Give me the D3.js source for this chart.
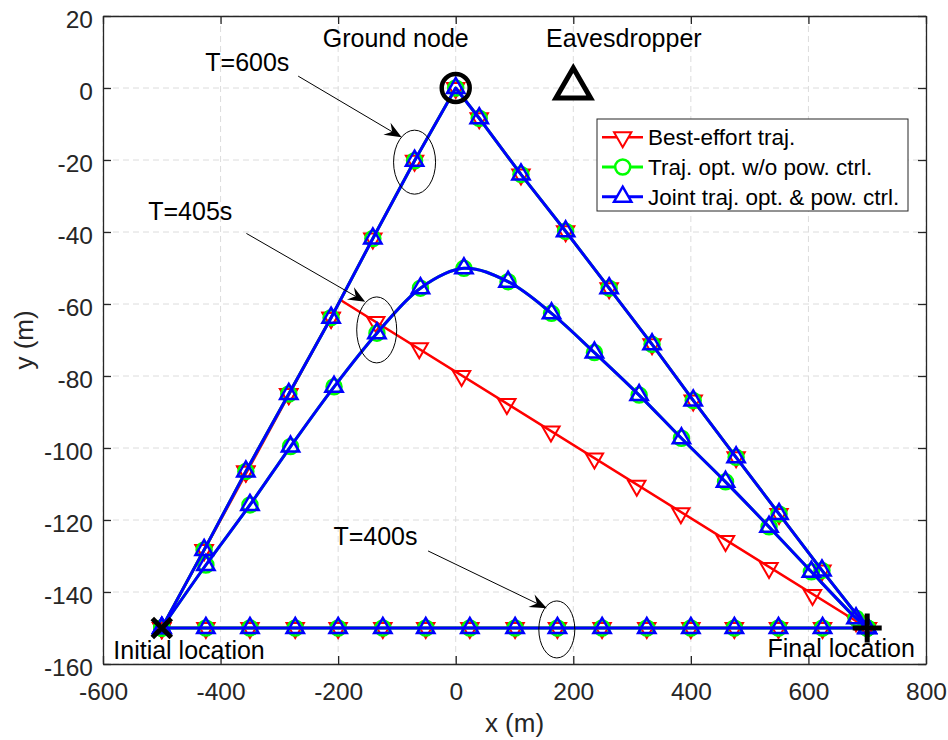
<!DOCTYPE html>
<html>
<head>
<meta charset="utf-8">
<script src="https://cdn.jsdelivr.net/npm/d3@7"></script>
<style>
  body { margin: 0; background: #fff; }
  svg { display: block; font-family: "Liberation Sans", Arial, Helvetica, sans-serif; }
</style>
</head>
<body>
<div class="canvas"></div>
<script>
// Axis ticks
const xTicks = [-600, -400, -200, 0, 200, 400, 600, 800];
const yTicks = [20, 0, -20, -40, -60, -80, -100, -120, -140, -160];

// T = 600 s : all three schemes fly the same path (via the ground node)
const t600X = [-500, -428, -357, -284, -212, -141, -70, 0, 40, 111, 187, 261, 334, 404, 477, 550, 623, 700];
const t600Y = [-150, -128.3, -106.5, -85, -63.8, -41.8, -20.2, 0, -8.4, -24, -39.8, -55.6, -71.2, -86.8, -102.6, -118.3, -134, -150];

// T = 400 s : straight line, all schemes coincide
const t400X = [-500, -425, -350, -273, -200, -124, -51, 24, 101, 173, 249, 325, 400, 474, 549, 624, 700];
const t400Y = [-150, -150, -150, -150, -150, -150, -150, -150, -150, -150, -150, -150, -150, -150, -150, -150, -150];

// T = 405 s : optimized trajectories (w/o power control and joint)
const t405X = [-500, -425, -350, -281, -207, -134, -60, 14, 89, 163, 236, 312, 384, 459, 533, 605, 681, 700];
const t405Y = [-150, -132.5, -115.8, -99.6, -83, -68.1, -55.6, -50.1, -53.8, -62.6, -73.5, -85.3, -97.3, -109.4, -121.9, -134.4, -147.3, -150];

// T = 405 s : best-effort trajectory (markers, and the corners of its path)
const beX = [-500, -428, -357, -284, -212, -136, -62, 10, 87, 162, 236, 308, 383, 459, 533, 607, 681, 700];
const beY = [-150, -128.3, -106.5, -85, -63.8, -65, -72.3, -80, -87.8, -95.4, -102.9, -110.5, -118.1, -125.8, -133.3, -140.8, -148.1, -150];
const bePathX = [-500, -196, 700];
const bePathY = [-150, -58.9, -150];

const seriesNames = ['Best-effort traj.', 'Traj. opt. w/o pow. ctrl.', 'Joint traj. opt. & pow. ctrl.'];
const seriesColors = ['#ff0000', '#00ff00', '#0000ff'];

const zip = (xs, ys) => xs.map((v, i) => [v, ys[i]]);

const width = 948, height = 740;
const plot = { left: 103, right: 926, top: 16, bottom: 664 };

const svg = d3.select('.canvas')
  .append('svg')
  .attr('width', width)
  .attr('height', height);

const x = d3.scaleLinear().domain([-600, 800]).range([plot.left, plot.right]);
const y = d3.scaleLinear().domain([-160, 20]).range([plot.bottom, plot.top]);

// grid
const grid = svg.append('g')
  .attr('stroke', '#dcdcdc')
  .attr('stroke-width', 1)
  .attr('stroke-dasharray', '6,4');

grid.selectAll('.gx').data(xTicks).enter().append('line')
  .attr('x1', d => x(d)).attr('x2', d => x(d))
  .attr('y1', plot.top).attr('y2', plot.bottom);

grid.selectAll('.gy').data(yTicks).enter().append('line')
  .attr('y1', d => y(d)).attr('y2', d => y(d))
  .attr('x1', plot.left).attr('x2', plot.right);

// axes (box with inward ticks)
const fmt = d => String(d);
const axes = [
  svg.append('g').attr('transform', `translate(0,${plot.bottom})`)
    .call(d3.axisBottom(x).tickValues(xTicks).tickSizeInner(-8).tickSizeOuter(0).tickPadding(19).tickFormat(fmt)),
  svg.append('g').attr('transform', `translate(${plot.left},0)`)
    .call(d3.axisLeft(y).tickValues(yTicks).tickSizeInner(-8).tickSizeOuter(0).tickPadding(10).tickFormat(fmt)),
  svg.append('g').attr('transform', `translate(0,${plot.top})`)
    .call(d3.axisTop(x).tickValues(xTicks).tickSizeInner(-8).tickSizeOuter(0).tickFormat('')),
  svg.append('g').attr('transform', `translate(${plot.right},0)`)
    .call(d3.axisRight(y).tickValues(yTicks).tickSizeInner(-8).tickSizeOuter(0).tickFormat(''))
];
axes.forEach(a => {
  a.attr('font-family', null).attr('font-size', null);
  a.select('.domain').attr('stroke', '#262626').attr('stroke-width', 1.3);
  a.selectAll('.tick line').attr('stroke', '#262626').attr('stroke-width', 1.3);
  a.selectAll('.tick text').attr('fill', '#262626').style('font-size', '24.5px');
});
axes[1].selectAll('.tick text').attr('dy', '0.45em');

// axis labels
svg.append('text')
  .attr('x', (plot.left + plot.right) / 2)
  .attr('y', 732)
  .attr('text-anchor', 'middle')
  .attr('fill', '#262626')
  .style('font-size', '26px')
  .text('x (m)');

svg.append('text')
  .attr('transform', `translate(33,${(plot.top + plot.bottom) / 2}) rotate(-90)`)
  .attr('text-anchor', 'middle')
  .attr('fill', '#262626')
  .style('font-size', '26px')
  .text('y (m)');

// line generators
const straight = d3.line().x(d => x(d[0])).y(d => y(d[1]));
const smooth = d3.line().curve(d3.curveCatmullRom.alpha(0.5)).x(d => x(d[0])).y(d => y(d[1]));

// marker shapes
const triUp = d3.symbol(d3.symbolTriangle, 130)();
const markerPath = [
  { path: triUp, rotate: 180 },
  { path: d3.symbol(d3.symbolCircle, Math.PI * 7.5 * 7.5)(), rotate: 0 },
  { path: triUp, rotate: 0 }
];
const markerStroke = [2, 2.5, 2.5];
const lineWidth = [2.5, 3, 3];

const drawMarkers = (g, pts, i) => {
  g.selectAll(null).data(pts).enter().append('path')
    .attr('d', markerPath[i].path)
    .attr('transform', d => `translate(${x(d[0])},${y(d[1])}) rotate(${markerPath[i].rotate})`)
    .attr('fill', 'none')
    .attr('stroke', seriesColors[i])
    .attr('stroke-width', markerStroke[i]);
};

const seriesData = [
  { lines: [[zip(t600X, t600Y), straight], [zip(t400X, t400Y), straight], [zip(bePathX, bePathY), straight]],
    markers: [zip(t600X, t600Y), zip(t400X, t400Y), zip(beX, beY)] },
  { lines: [[zip(t600X, t600Y), straight], [zip(t400X, t400Y), straight], [zip(t405X, t405Y), smooth]],
    markers: [zip(t600X, t600Y), zip(t400X, t400Y), zip(t405X, t405Y)] },
  { lines: [[zip(t600X, t600Y), straight], [zip(t400X, t400Y), straight], [zip(t405X, t405Y), smooth]],
    markers: [zip(t600X, t600Y), zip(t400X, t400Y), zip(t405X, t405Y)] }
];

seriesData.forEach((s, i) => {
  const g = svg.append('g');
  s.lines.forEach(([pts, gen]) => {
    g.append('path')
      .attr('d', gen(pts))
      .attr('fill', 'none')
      .attr('stroke', seriesColors[i])
      .attr('stroke-width', lineWidth[i])
      .attr('stroke-linejoin', 'round');
  });
  s.markers.forEach(pts => drawMarkers(g, pts, i));
});

// annotations: ellipses + arrows + text
const notes = [
  { text: 'T=600s', tx: -426, ty: 4.7, from: [-268, 3.3], to: [-92, -13.7], ell: [-70, -20.6], rx: 21, ry: 32 },
  { text: 'T=405s', tx: -523, ty: -36.7, from: [-356, -40.4], to: [-154, -59.4], ell: [-134.4, -67.2], rx: 20, ry: 33 },
  { text: 'T=400s', tx: -208, ty: -127, from: [-47, -128.6], to: [155, -144.5], ell: [172, -150.4], rx: 18, ry: 28.5 }
];

const ann = svg.append('g');
notes.forEach(n => {
  ann.append('ellipse')
    .attr('cx', x(n.ell[0])).attr('cy', y(n.ell[1]))
    .attr('rx', n.rx).attr('ry', n.ry)
    .attr('fill', 'none').attr('stroke', '#000').attr('stroke-width', 1);

  const x0 = x(n.from[0]), y0 = y(n.from[1]);
  const x1 = x(n.to[0]), y1 = y(n.to[1]);
  const ang = Math.atan2(y1 - y0, x1 - x0);
  const len = 17, half = 7, notch = 11;
  const ux = Math.cos(ang), uy = Math.sin(ang);
  const px = -uy, py = ux;
  const bx = x1 - ux * len, by = y1 - uy * len;
  const nx = x1 - ux * notch, ny = y1 - uy * notch;

  ann.append('line')
    .attr('x1', x0).attr('y1', y0).attr('x2', nx).attr('y2', ny)
    .attr('stroke', '#000').attr('stroke-width', 1);

  ann.append('path')
    .attr('d', `M${x1},${y1}L${bx + px * half},${by + py * half}L${nx},${ny}L${bx - px * half},${by - py * half}Z`)
    .attr('fill', '#000');

  ann.append('text')
    .attr('x', x(n.tx)).attr('y', y(n.ty))
    .style('font-size', '25px')
    .text(n.text);
});

// special locations
const special = svg.append('g').attr('stroke', '#000').attr('fill', 'none');

special.append('circle')
  .attr('cx', x(0)).attr('cy', y(0)).attr('r', 14)
  .attr('stroke-width', 4.5);

special.append('path')
  .attr('d', d3.symbol(d3.symbolTriangle, 520)())
  .attr('transform', `translate(${x(200)},${y(0)})`)
  .attr('stroke-width', 5)
  .attr('stroke-linejoin', 'miter');

const sx = x(-500), sy = y(-150), a = 9.5;
special.append('path')
  .attr('d', `M${sx - a},${sy - a}L${sx + a},${sy + a}M${sx - a},${sy + a}L${sx + a},${sy - a}`)
  .attr('stroke-width', 5);

const fx = x(700), fy = y(-150), b = 14.5;
special.append('path')
  .attr('d', `M${fx - b},${fy}L${fx + b},${fy}M${fx},${fy - b}L${fx},${fy + b}`)
  .attr('stroke-width', 5);

const labels = [
  { text: 'Ground node', px: -102, py: 11.5, anchor: 'middle' },
  { text: 'Eavesdropper', px: 286, py: 11.3, anchor: 'middle' },
  { text: 'Initial location', px: -582.5, py: -158.6, anchor: 'start' },
  { text: 'Final location', px: 781, py: -158, anchor: 'end' }
];
svg.append('g').selectAll('text').data(labels).enter().append('text')
  .attr('x', d => x(d.px)).attr('y', d => y(d.py))
  .attr('text-anchor', d => d.anchor)
  .style('font-size', '25px')
  .text(d => d.text);

// legend
const legend = svg.append('g');
legend.append('rect')
  .attr('x', 597).attr('y', 119).attr('width', 311).attr('height', 92)
  .attr('fill', '#fff').attr('stroke', '#262626').attr('stroke-width', 1);

seriesNames.forEach((name, i) => {
  const ry = 137.3 + i * 29.7;
  legend.append('line')
    .attr('x1', 602).attr('x2', 643).attr('y1', ry).attr('y2', ry)
    .attr('stroke', seriesColors[i]).attr('stroke-width', lineWidth[i]);
  legend.append('path')
    .attr('d', markerPath[i].path)
    .attr('transform', `translate(622.7,${ry}) rotate(${markerPath[i].rotate})`)
    .attr('fill', '#fff')
    .attr('stroke', seriesColors[i])
    .attr('stroke-width', markerStroke[i]);
  legend.append('text')
    .attr('x', 648).attr('y', ry).attr('dy', '0.35em')
    .style('font-size', '22.5px')
    .text(name);
});
</script>
</body>
</html>
